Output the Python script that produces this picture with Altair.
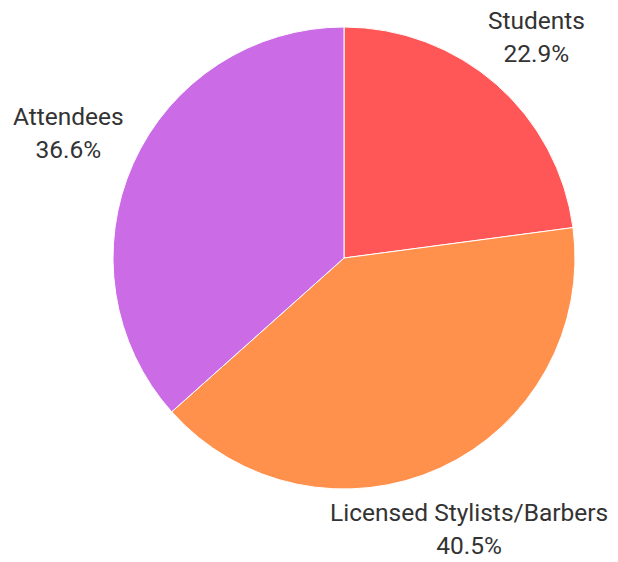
import altair as alt
import pandas as pd

categories = ["Students", "Licensed Stylists/Barbers", "Attendees"]
values = [22.9, 40.5, 36.6]
labels = ["22.9%", "40.5%", "36.6%"]
colors = ["#FF5757", "#FF914D", "#CB6CE6"]
label_radius = [292, 300, 302]

df = pd.DataFrame({
    "category": categories,
    "value": values,
    "label": labels,
    "order": list(range(len(categories))),
})

cx, cy = 336, 250

base = alt.Chart(df).encode(
    theta=alt.Theta("value:Q", stack=True),
    order=alt.Order("order:Q"),
    x=alt.value(cx),
    y=alt.value(cy),
)

pie = base.mark_arc(outerRadius=231, stroke="white", strokeWidth=1).encode(
    color=alt.Color("category:N", scale=alt.Scale(domain=categories, range=colors), legend=None)
)

font = "Roboto"
fs = 24.5
layers = [pie]
for cat, r in zip(categories, label_radius):
    sel = base.transform_calculate(show=f"datum.category === '{cat}' ? 1 : 0")
    t1 = sel.mark_text(radius=r, dy=-16.5, fontSize=fs, font=font, color="#333333").encode(
        text="category:N", opacity=alt.Opacity("show:Q", scale=None)
    )
    t2 = sel.mark_text(radius=r, dy=16.5, fontSize=fs, font=font, color="#333333").encode(
        text="label:N", opacity=alt.Opacity("show:Q", scale=None)
    )
    layers += [t1, t2]

chart = alt.layer(*layers).properties(
    width=602, height=552, padding=0, autosize=alt.AutoSizeParams(type="none")
).configure_view(stroke=None)

chart.save("out.html", embed_options={"renderer": "svg", "actions": False})
